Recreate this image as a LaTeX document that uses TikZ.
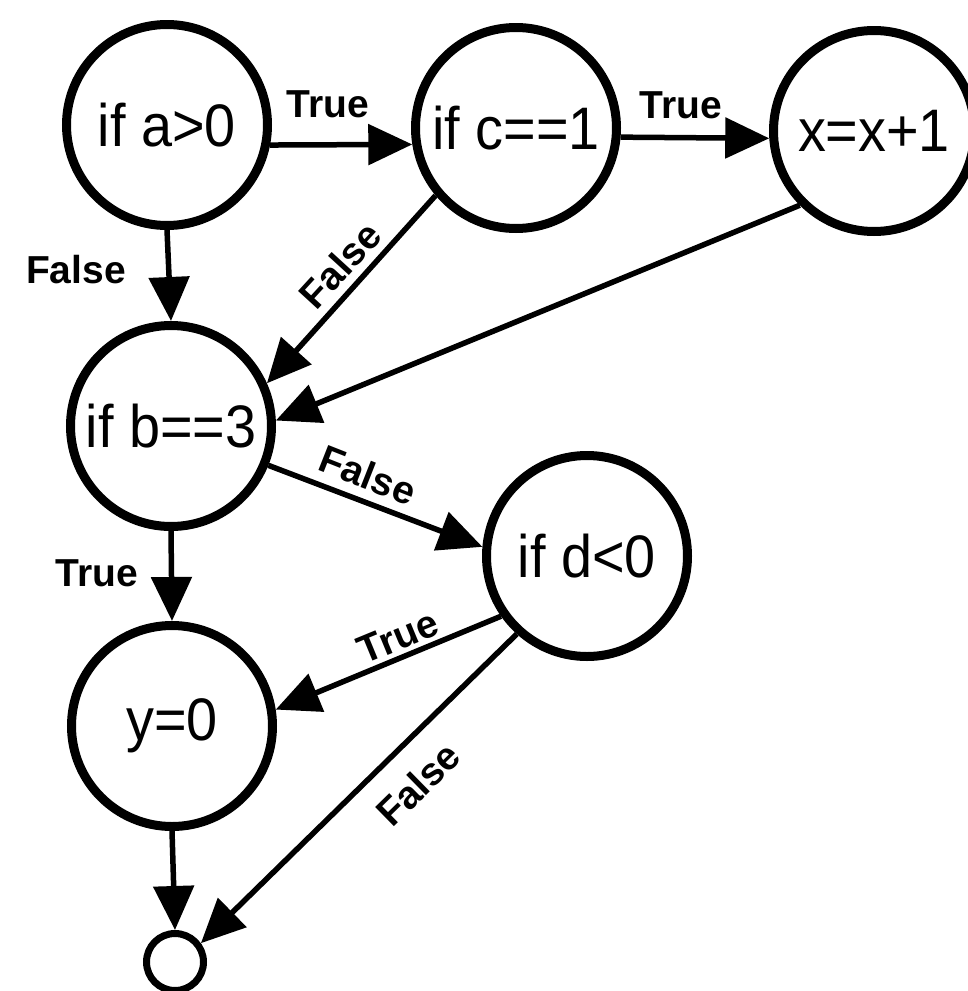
\documentclass[tikz,border=0pt]{standalone}
\usepackage{fontspec}
\setmainfont{Liberation Sans}
\newfontfamily\nodefont{Liberation Sans}[FakeStretch=0.93]
\usetikzlibrary{arrows.meta}
\begin{document}
\begin{tikzpicture}[x=1pt,y=-1pt,
  state/.style={circle,draw,line width=9pt,minimum size=201pt,inner sep=0pt,font=\nodefont\fontsize{60}{62}\selectfont},
  endstate/.style={circle,draw,line width=7pt,minimum size=57pt,inner sep=0pt},
  flow/.style={line width=5.5pt,-{Triangle[length=44pt,width=40pt]}},
  lbl/.style={font=\fontsize{39}{40}\selectfont\bfseries,inner sep=0pt}]
\useasboundingbox (0,0) rectangle (967,991);
\node[state] (a) at (167,125) {if a>0};
\node[state] (c) at (516,128) {if c==1};
\node[state] (x) at (874,131) {x=x+1};
\node[state] (b) at (171,426) {if b==3};
\node[state] (d) at (587,556) {if d<0};
\node[state] (y) at (172,726) {y=0};
\node[endstate] (e) at (175,962) {};
\draw[flow] (a.-11) -- (c.189);
\draw[flow] (c.-5) -- (x.184);
\draw[flow] (a.south) -- (b.north);
\draw[flow] (c.220) -- (b.24);
\draw[flow] (x.225) -- (b.3);
\draw[flow] (b.-22) -- (d.175);
\draw[flow] (b.south) -- (y.north);
\draw[flow] (d.215) -- (y.9);
\draw[flow] (d.228) -- (e.36);
\draw[flow] (y.south) -- (e.north);
\node[lbl] (l1) at (328,104) {True};
\node[lbl] (l2) at (681,105) {True};
\node[lbl] (l3) at (76,270) {False};
\node[lbl,rotate=47.5] (l4) at (340,265) {False};
\node[lbl,rotate=-21.5] (l5) at (368,475) {False};
\node[lbl] (l6) at (97,573) {True};
\node[lbl,rotate=22.4] (l7) at (398,637) {True};
\node[lbl,rotate=44.4] (l8) at (418,784) {False};
\end{tikzpicture}
\end{document}
